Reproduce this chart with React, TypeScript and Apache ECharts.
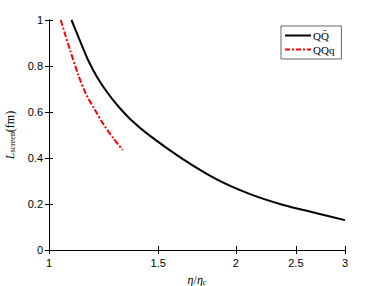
import React, { useEffect, useRef } from "react";
import * as echarts from "echarts";

const qqbarX = [1.087, 1.122, 1.156, 1.195, 1.24, 1.292, 1.351, 1.455, 1.646, 1.864, 2.109, 2.386, 2.701, 3.0];
const qqbarY = [1.0, 0.909, 0.826, 0.752, 0.687, 0.626, 0.57, 0.496, 0.394, 0.307, 0.243, 0.196, 0.16, 0.13];
const qqqX = [1.0444, 1.0612, 1.0811, 1.1149, 1.1472, 1.1862, 1.2265, 1.2696, 1.3147];
const qqqY = [1.0, 0.939, 0.87, 0.761, 0.678, 0.609, 0.543, 0.486, 0.435];
const xTicks = [1, 1.5, 2, 2.5, 3];
const xTickLabels = ["1", "1.5", "2", "2.5", "3"];
const seriesNames = ["QQ\u0304", "QQq"];

export default function App() {
  const ref = useRef<HTMLDivElement>(null);
  useEffect(() => {
    if (!ref.current) return;
    const chart = echarts.init(ref.current, null, { renderer: "svg" });
    const lnTicks = xTicks.map((v) => Math.log(v));
    const fmtX = (v: number) => {
      let best = 0;
      lnTicks.forEach((t, i) => {
        if (Math.abs(t - v) < Math.abs(lnTicks[best] - v)) best = i;
      });
      return xTickLabels[best];
    };
    const axisLine = { show: true, lineStyle: { color: "#000", width: 1 } };
    const labelFont = { fontFamily: "Liberation Sans", fontSize: 11, color: "#000" };
    chart.setOption({
      animation: false,
      backgroundColor: "#fff",
      grid: { left: 49, right: 37, top: 20, bottom: 36, containLabel: false, outerBoundsMode: "none" },
      legend: {
        left: 281,
        top: 26,
        orient: "vertical",
        padding: [4, 7, 4, 4],
        itemGap: 3,
        itemWidth: 26,
        itemHeight: 2,
        backgroundColor: "#fff",
        borderColor: "#000",
        borderWidth: 0.6,
        borderRadius: 0,
        textStyle: { fontFamily: "Liberation Serif", fontSize: 11, color: "#000", padding: [0, 0, 0, -3] },
        data: [
          { name: seriesNames[0], icon: "path://M0,0H26V2H0Z" },
          { name: seriesNames[1], icon: "path://M0,0h5v2h-5z M7,0h2v2h-2z M11,0h5v2h-5z M18,0h2v2h-2z M22,0h4v2h-4z" },
        ],
      },
      xAxis: [
        {
          type: "value",
          min: 0,
          max: Math.log(3),
          position: "bottom",
          axisLine,
          splitLine: { show: false },
          axisTick: { show: true, inside: true, length: 4, customValues: lnTicks, lineStyle: { color: "#000" } },
          axisLabel: { ...labelFont, customValues: lnTicks, formatter: fmtX, margin: 7 },
          name: "{i|η}/{i|η}{sub|c}",
          nameLocation: "middle",
          nameGap: 23,
          nameTextStyle: {
            rich: {
              i: { fontFamily: "Liberation Serif", fontStyle: "italic", fontSize: 12, color: "#000" },
              sub: { fontFamily: "Liberation Serif", fontStyle: "italic", fontSize: 8, color: "#000", padding: [5, 0, 0, 0] },
            },
            fontFamily: "Liberation Serif",
            fontSize: 12,
            color: "#000",
          },
        },
        {
          type: "value",
          min: 0,
          max: Math.log(3),
          position: "top",
          axisLine,
          splitLine: { show: false },
          axisTick: { show: true, inside: true, length: 4, customValues: lnTicks, lineStyle: { color: "#000" } },
          axisLabel: { show: false },
        },
      ],
      yAxis: [
        {
          type: "value",
          min: 0,
          max: 1,
          interval: 0.2,
          position: "left",
          axisLine,
          splitLine: { show: false },
          axisTick: { show: true, inside: true, length: 4, lineStyle: { color: "#000" } },
          axisLabel: { ...labelFont, margin: 6 },
          name: "{i|L}{sub|screen}{n|(fm)}",
          nameLocation: "middle",
          nameRotate: 90,
          nameGap: 27,
          nameTextStyle: {
            rich: {
              i: { fontFamily: "Liberation Serif", fontStyle: "italic", fontSize: 12, color: "#000" },
              sub: { fontFamily: "Liberation Serif", fontSize: 8, color: "#000", padding: [6, 0, 0, 0] },
              n: { fontFamily: "Liberation Serif", fontSize: 12, color: "#000" },
            },
          },
        },
        {
          type: "value",
          min: 0,
          max: 1,
          interval: 0.2,
          position: "right",
          axisLine,
          splitLine: { show: false },
          axisTick: { show: true, inside: true, length: 4, lineStyle: { color: "#000" } },
          axisLabel: { show: false },
        },
      ],
      series: [
        {
          name: seriesNames[0],
          type: "line",
          smooth: 0.3,
          showSymbol: false,
          symbol: "none",
          lineStyle: { color: "#000", width: 2 },
          itemStyle: { color: "#000" },
          data: qqbarX.map((x, i) => [Math.log(x), qqbarY[i]]),
        },
        {
          name: seriesNames[1],
          type: "line",
          smooth: 0.3,
          showSymbol: false,
          symbol: "none",
          lineStyle: { color: "#ff0000", width: 2, type: [6, 2, 2, 2] },
          itemStyle: { color: "#ff0000" },
          data: qqqX.map((x, i) => [Math.log(x), qqqY[i]]),
        },
      ],
    });
    return () => chart.dispose();
  }, []);
  return <div ref={ref} style={{ width: 382, height: 286, position: "absolute", left: 0, top: 0 }} />;
}
